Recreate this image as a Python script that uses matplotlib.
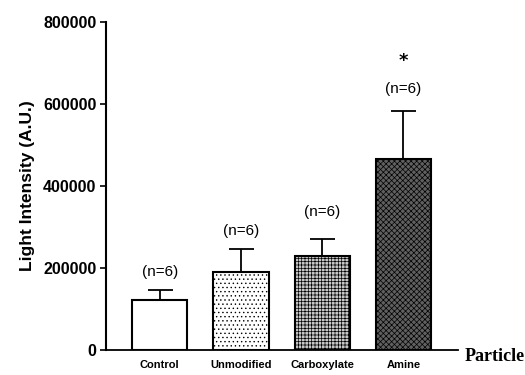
import matplotlib.pyplot as plt

# values
particles = ["Control", "Unmodified", "Carboxylate", "Amine"]
means = [122000, 190000, 230000, 466000]
err_up = [24000, 56000, 41000, 118000]
n_labels = ["(n=6)", "(n=6)", "(n=6)", "(n=6)"]
yticks = [0, 200000, 400000, 600000, 800000]

faces = ["white", "white", "#c8c8c8", "#606060"]
hatches = [None, "....", "+++++", "xxxxxx"]

fig = plt.figure(figsize=(5.25, 3.75), dpi=100)
ax = fig.add_axes([0.202, 0.0667, 0.67, 0.874])

pos = list(range(len(particles)))
plt.rcParams["hatch.linewidth"] = 0.5
for i in pos:
    ax.bar(i, means[i], width=0.68, color=faces[i], edgecolor="black",
           linewidth=1.5, hatch=hatches[i], zorder=2)
ax.errorbar(pos, means, yerr=[[0] * 4, err_up], fmt="none", ecolor="black",
            elinewidth=1.3, capsize=9, capthick=1.3, zorder=1)

offsets = [28000, 27000, 48000, 35000]
for i in pos:
    ax.text(i, means[i] + err_up[i] + offsets[i], n_labels[i], ha="center",
            va="bottom", fontsize=11, family="Liberation Sans")
ax.text(3, 705000, "*", ha="center", va="center", fontsize=13, fontweight="bold")

ax.set_xlim(-0.66, 3.67)
ax.set_ylim(0, 800000)
ax.set_yticks(yticks)
ax.set_yticklabels([str(v) for v in yticks], fontsize=11.5, fontweight="bold",
                   family="Liberation Sans")
ax.set_xticks(pos)
ax.set_xticklabels(particles, fontsize=8, fontweight="bold",
                   family="Liberation Sans")
ax.tick_params(axis="x", length=0, pad=7)
ax.tick_params(axis="y", length=4, width=1.2, pad=3)
ax.set_ylabel("Light Intensity (A.U.)", fontsize=12.5, fontweight="bold",
              family="Liberation Sans", labelpad=6)
ax.spines["top"].set_visible(False)
ax.spines["right"].set_visible(False)
ax.spines["left"].set_linewidth(1.5)
ax.spines["bottom"].set_linewidth(1.3)
fig.text(0.885, 0.05, "Particle", fontsize=13, fontweight="bold",
         family="Liberation Serif", ha="left", va="center")

fig.savefig("out.png", dpi=100)
